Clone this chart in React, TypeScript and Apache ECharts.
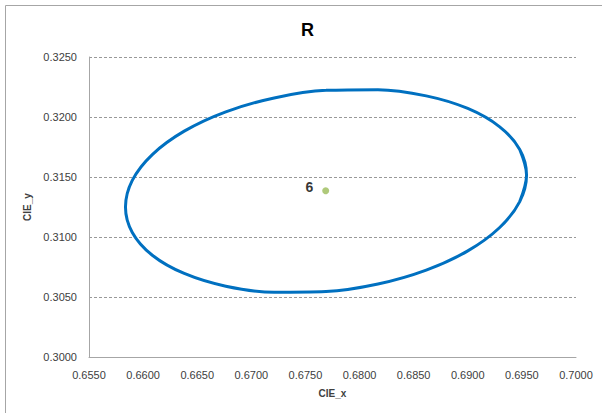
import React, { useEffect, useRef } from "react";
import * as echarts from "echarts";

const chartTitle = "R";
const xAxisName = "CIE_x";
const yAxisName = "CIE_y";

// Ellipse outline (CIE_x, CIE_y), counter-clockwise from the rightmost point
const ellipseX = [
  0.69543, 0.6948, 0.69295, 0.69, 0.68616, 0.6817, 0.6769, 0.67211,
  0.66764, 0.6638, 0.66085, 0.659, 0.65837, 0.659, 0.66085, 0.6638,
  0.66764, 0.67211, 0.6769, 0.6817, 0.68616, 0.69, 0.69295, 0.6948,
];
const ellipseY = [
  0.31517, 0.31729, 0.31918, 0.32071, 0.32176, 0.32228, 0.32222, 0.32159,
  0.32043, 0.31882, 0.31687, 0.31472, 0.3125, 0.31038, 0.30848, 0.30696,
  0.3059, 0.30539, 0.30545, 0.30608, 0.30724, 0.30884, 0.31079, 0.31295,
];

const pointLabels = ["6"];
const pointX = [0.67687];
const pointY = [0.31386];

const xMin = 0.655;
const xMax = 0.7;
const yMin = 0.3;
const yMax = 0.325;
const step = 0.005;

export default function App() {
  const ref = useRef<HTMLDivElement>(null);

  useEffect(() => {
    if (!ref.current) return;
    const chart = echarts.init(ref.current, undefined, { renderer: "svg" });
    const n = ellipseX.length;
    const ring: number[][] = [];
    // wrap around with overlap so the closed curve is smooth at the seam
    ring.push([ellipseX[n - 1], ellipseY[n - 1]]);
    for (let i = 0; i < n; i++) ring.push([ellipseX[i], ellipseY[i]]);
    ring.push([ellipseX[0], ellipseY[0]]);
    ring.push([ellipseX[1], ellipseY[1]]);

    const font = "'Liberation Sans', Arial, sans-serif";

    chart.setOption({
      animation: false,
      backgroundColor: "#ffffff",
      title: {
        text: chartTitle,
        left: 296,
        top: 16,
        textStyle: { fontFamily: font, fontSize: 18, fontWeight: "bold", color: "#000000" },
      },
      graphic: [
        {
          type: "rect",
          shape: { x: 5.5, y: 5.5, width: 620, height: 430 },
          style: { fill: "none", stroke: "#A6A6A6", lineWidth: 1 },
          silent: true,
        },
      ],
      grid: { left: 89, right: 26, top: 57, bottom: 56, containLabel: false },
      xAxis: {
        type: "value",
        min: xMin,
        max: xMax,
        interval: step,
        name: xAxisName,
        nameLocation: "middle",
        nameGap: 31,
        nameTextStyle: { fontFamily: font, fontSize: 10, fontWeight: "bold", color: "#404040" },
        axisLine: { show: true, lineStyle: { color: "#A6A6A6", width: 1 } },
        axisTick: { show: false },
        splitLine: { show: false },
        axisLabel: {
          fontFamily: font,
          fontSize: 11,
          color: "#404040",
          margin: 12,
          formatter: (v: number) => v.toFixed(4),
        },
      },
      yAxis: {
        type: "value",
        min: yMin,
        max: yMax,
        interval: step,
        name: yAxisName,
        nameLocation: "middle",
        nameGap: 55,
        nameRotate: 90,
        nameTextStyle: { fontFamily: font, fontSize: 10, fontWeight: "bold", color: "#404040" },
        axisLine: { show: true, lineStyle: { color: "#A6A6A6", width: 1 } },
        axisTick: { show: false },
        splitLine: { show: true, lineStyle: { color: "#999999", type: [3, 2], width: 1 } },
        axisLabel: {
          fontFamily: font,
          fontSize: 11,
          color: "#404040",
          margin: 12,
          formatter: (v: number) => v.toFixed(4),
        },
      },
      series: [
        {
          type: "line",
          data: ring,
          smooth: 0.34,
          showSymbol: false,
          lineStyle: { color: "#0070C0", width: 3 },
          silent: true,
          z: 2,
        },
        {
          type: "scatter",
          data: pointX.map((x, i) => ({ value: [x, pointY[i]], name: pointLabels[i] })),
          symbol: "circle",
          symbolSize: 7,
          itemStyle: { color: "#9BBB59" },
          label: {
            show: true,
            position: "left",
            distance: 9,
            offset: [0, -4],
            formatter: (p: any) => p.name,
            fontFamily: font,
            fontSize: 14,
            fontWeight: "bold",
            color: "#000000",
          },
          z: 3,
        },
      ],
    });
    return () => chart.dispose();
  }, []);

  return (
    <div
      ref={ref}
      style={{ position: "fixed", left: 0, top: 0, width: 602, height: 413 }}
    />
  );
}
